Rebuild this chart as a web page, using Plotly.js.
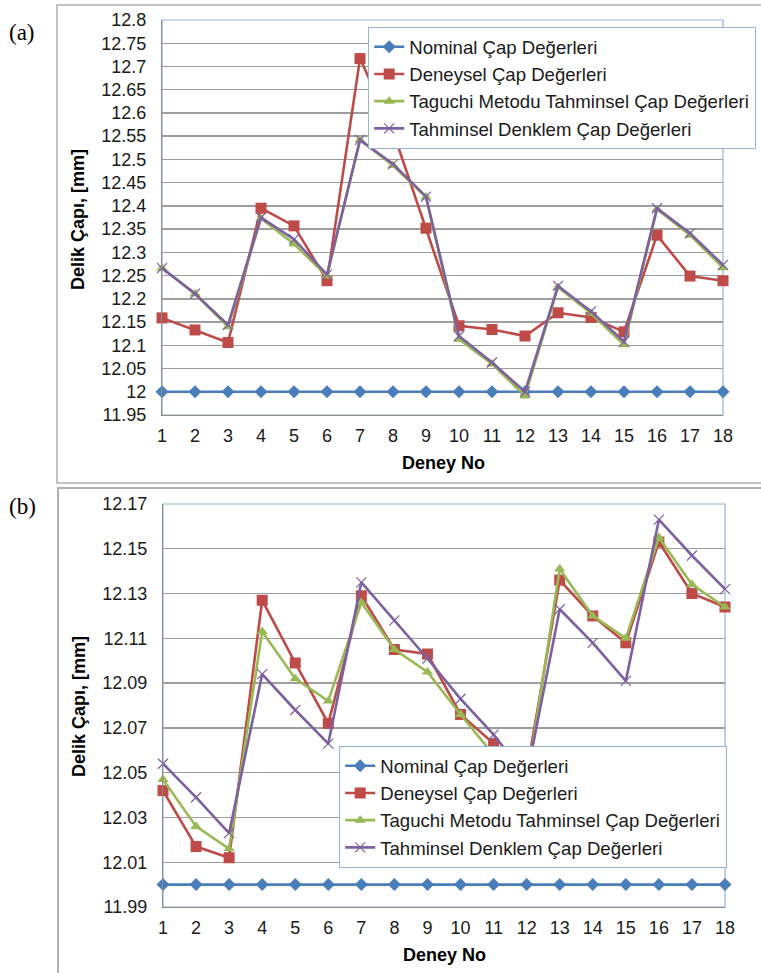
<!DOCTYPE html>
<html>
<head>
<meta charset="utf-8">
<script src="https://cdn.plot.ly/plotly-3.0.1.min.js"></script>
<style>html,body{margin:0;padding:0;background:#fff;}#chart{width:761px;height:973px;}</style>
</head>
<body>
<div id="chart"></div>
<script>
// ---------- DATA ----------
const deneyNo = [1,2,3,4,5,6,7,8,9,10,11,12,13,14,15,16,17,18];
const seriesNames = ["Nominal Çap Değerleri","Deneysel Çap Değerleri","Taguchi Metodu Tahminsel Çap Değerleri","Tahminsel Denklem Çap Değerleri"];

// (a)
const nominalA  = [12,12,12,12,12,12,12,12,12,12,12,12,12,12,12,12,12,12];
const deneyselA = [12.159,12.133,12.106,12.395,12.357,12.239,12.717,12.560,12.352,12.142,12.134,12.120,12.170,12.160,12.129,12.337,12.249,12.239];
const taguchiA  = [12.266,12.211,12.140,12.373,12.318,12.249,12.542,12.487,12.419,12.113,12.060,11.991,12.225,12.169,12.101,12.393,12.337,12.267];
const denklemA  = [12.266,12.211,12.144,12.375,12.328,12.252,12.542,12.490,12.420,12.120,12.063,12.000,12.228,12.173,12.108,12.395,12.341,12.273];
const yTickValsA = [11.95,12,12.05,12.1,12.15,12.2,12.25,12.3,12.35,12.4,12.45,12.5,12.55,12.6,12.65,12.7,12.75,12.8];
const yTickTextA = ["11.95","12","12.05","12.1","12.15","12.2","12.25","12.3","12.35","12.4","12.45","12.5","12.55","12.6","12.65","12.7","12.75","12.8"];

// (b)
const nominalB  = [12,12,12,12,12,12,12,12,12,12,12,12,12,12,12,12,12,12];
const deneyselB = [12.042,12.017,12.012,12.127,12.099,12.072,12.129,12.105,12.103,12.076,12.063,12.050,12.136,12.120,12.108,12.153,12.130,12.124];
const taguchiB  = [12.047,12.026,12.016,12.113,12.092,12.082,12.126,12.105,12.095,12.076,12.058,12.045,12.141,12.120,12.110,12.155,12.134,12.124];
const denklemB  = [12.054,12.039,12.023,12.094,12.078,12.063,12.135,12.118,12.101,12.083,12.067,12.048,12.123,12.108,12.091,12.163,12.147,12.132];
const yTickValsB = [11.99,12.01,12.03,12.05,12.07,12.09,12.11,12.13,12.15,12.17];
const yTickTextB = ["11.99","12.01","12.03","12.05","12.07","12.09","12.11","12.13","12.15","12.17"];

const xTitle = "Deney No";
const yTitle = "Delik Çapı, [mm]";

// ---------- STYLE ----------
const W = 761, H = 973;
const px = x => x / W;
const py = y => 1 - y / H;
const colors = ["#4A7EBB", "#BE4B48", "#98B954", "#7D60A0"];
const symbols = ["diamond", "square", "triangle-up", "x-thin"];
const msizes = [10, 11, 10, 10];
const FONT = "Liberation Sans, Arial, sans-serif";

function mk(y, i, xa, ya, leg) {
  const m = {symbol: symbols[i], size: msizes[i], color: colors[i]};
  if (symbols[i] === "x-thin") m.line = {color: colors[i], width: 1.2};
  return {
    x: deneyNo, y: y, type: "scatter", mode: "lines+markers",
    name: seriesNames[i], xaxis: xa, yaxis: ya, legend: leg,
    legendgroup: leg + i,
    line: {color: colors[i], width: 2.6},
    marker: m, cliponaxis: false
  };
}

const data = [
  mk(nominalA, 0, "x", "y", "legend"),
  mk(deneyselA, 1, "x", "y", "legend"),
  mk(taguchiA, 2, "x", "y", "legend"),
  mk(denklemA, 3, "x", "y", "legend"),
  mk(nominalB, 0, "x2", "y2", "legend2"),
  mk(deneyselB, 1, "x2", "y2", "legend2"),
  mk(taguchiB, 2, "x2", "y2", "legend2"),
  mk(denklemB, 3, "x2", "y2", "legend2")
];

const tickFont = {family: FONT, size: 18, color: "#1a1a1a"};
const gridC = "#9e9e9e";
const axisC = "#8c8c8c";

function xaxis(domain, anchor) {
  return {
    domain: domain, anchor: anchor, range: [1, 18], tickvals: deneyNo,
    ticks: "", showgrid: false, zeroline: false, showline: true,
    linecolor: axisC, linewidth: 1.2, tickfont: tickFont, ticklabelstandoff: 4,
    fixedrange: true
  };
}
function yaxis(domain, anchor, range, tv, tt) {
  return {
    domain: domain, anchor: anchor, range: range, tickvals: tv, ticktext: tt,
    ticks: "", showgrid: true, gridcolor: gridC, gridwidth: 1.4, zeroline: false,
    showline: true, linecolor: axisC, linewidth: 1.2, tickfont: tickFont,
    ticklabelstandoff: 11, fixedrange: true
  };
}

const legendFont = {family: FONT, size: 18.6, color: "#1a1a1a"};
function ann(text, x, y, font, extra) {
  return Object.assign({text: text, xref: "paper", yref: "paper", x: px(x), y: py(y),
    xanchor: "center", yanchor: "middle", showarrow: false, font: font}, extra || {});
}
const serif = {family: "Liberation Serif, Times New Roman, serif", size: 23, color: "#000"};
const bold = {family: FONT, size: 18, color: "#000"};

const layout = {
  width: W, height: H,
  margin: {l: 0, r: 0, t: 0, b: 0},
  paper_bgcolor: "#ffffff", plot_bgcolor: "#ffffff",
  showlegend: true,
  xaxis: xaxis([px(162), px(723)], "y"),
  yaxis: yaxis([py(415), py(20)], "x", [11.95, 12.8], yTickValsA, yTickTextA),
  xaxis2: xaxis([px(163), px(725)], "y2"),
  yaxis2: yaxis([py(907), py(504)], "x2", [11.99, 12.17], yTickValsB, yTickTextB),
  legend: {
    x: px(368), y: py(27), xanchor: "left", yanchor: "top",
    bgcolor: "#ffffff", bordercolor: "#95B3D7", borderwidth: 1.2,
    font: legendFont, tracegroupgap: 2, traceorder: "normal"
  },
  legend2: {
    x: px(339), y: py(746), xanchor: "left", yanchor: "top",
    bgcolor: "#ffffff", bordercolor: "#95B3D7", borderwidth: 1.2,
    font: legendFont, tracegroupgap: 2, traceorder: "normal"
  },
  shapes: [
    {type: "rect", xref: "paper", yref: "paper", x0: px(57), x1: px(800), y0: py(483), y1: py(5),
     line: {color: "#b0b0b0", width: 1.5}, layer: "below"},
    {type: "rect", xref: "paper", yref: "paper", x0: px(58), x1: px(800), y0: py(1010), y1: py(488),
     line: {color: "#b0b0b0", width: 2}, layer: "below"},
    {type: "rect", xref: "x domain", yref: "y domain", x0: 0, x1: 1, y0: 0, y1: 1,
     line: {color: "#95B3D7", width: 1.2}, layer: "below"},
    {type: "rect", xref: "x2 domain", yref: "y2 domain", x0: 0, x1: 1, y0: 0, y1: 1,
     line: {color: "#95B3D7", width: 1.2}, layer: "below"}
  ],
  annotations: [
    ann("(a)", 22, 32, serif),
    ann("(b)", 22, 506, serif),
    ann("<b>" + yTitle + "</b>", 78, 220, bold, {textangle: -90}),
    ann("<b>" + yTitle + "</b>", 79, 707, bold, {textangle: -90}),
    ann("<b>" + xTitle + "</b>", 443, 463, bold),
    ann("<b>" + xTitle + "</b>", 444, 955, bold)
  ]
};

Plotly.newPlot("chart", data, layout, {displayModeBar: false, staticPlot: true});
</script>
</body>
</html>
